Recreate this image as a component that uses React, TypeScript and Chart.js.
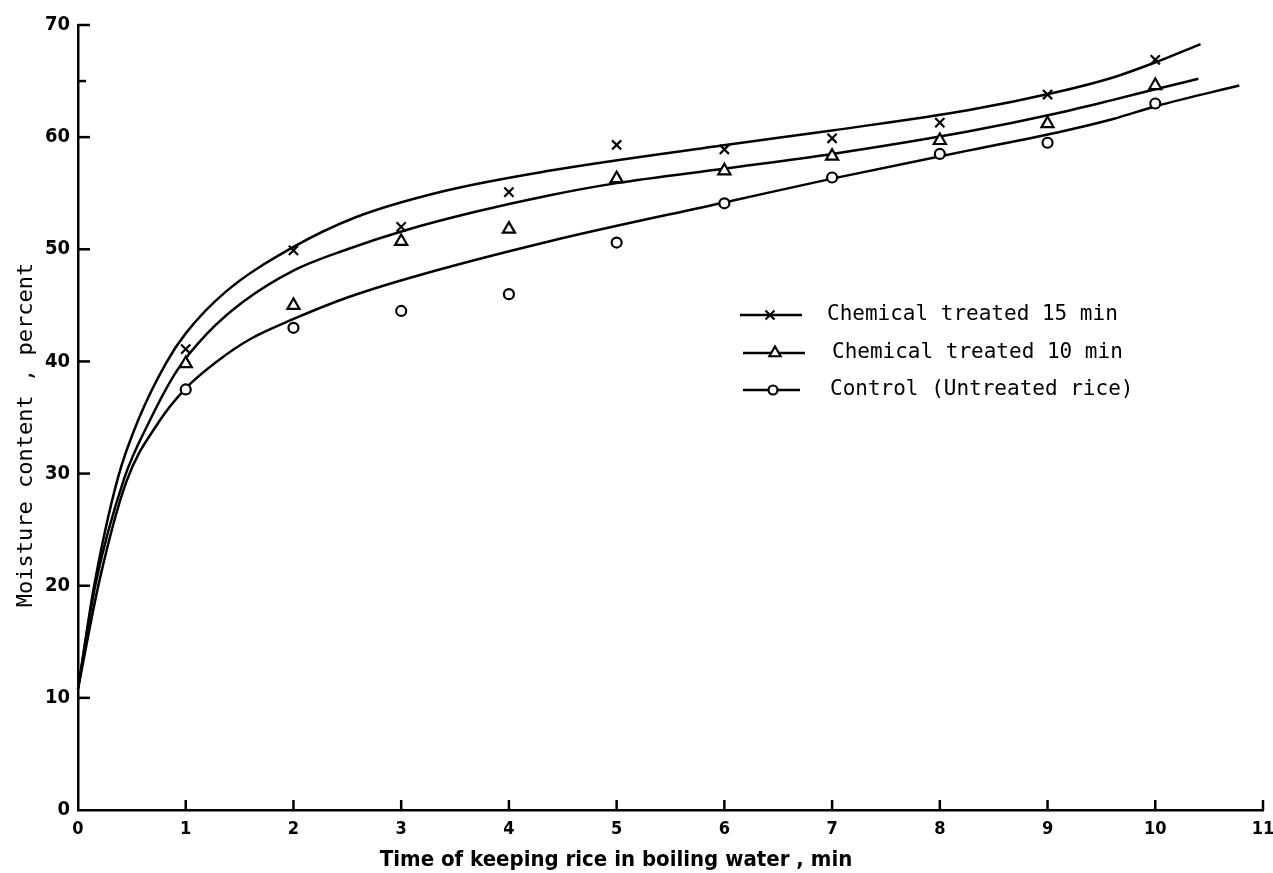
import React, { useEffect, useRef } from 'react';
import { Chart, registerables } from 'chart.js';

Chart.register(...registerables);

// ---- Data ----
const seriesLabels = ['Chemical treated 15 min', 'Chemical treated 10 min', 'Control (Untreated rice)'];
const markerStyles = ['crossRot', 'triangle', 'circle'];

// measured points
const timeMin = [1, 2, 3, 4, 5, 6, 7, 8, 9, 10];
const treated15 = [41.1, 49.9, 52.0, 55.1, 59.3, 58.9, 59.9, 61.3, 63.8, 66.9];
const treated10 = [39.8, 45.0, 50.7, 51.8, 56.3, 57.0, 58.3, 59.7, 61.2, 64.6];
const control = [37.5, 43.0, 44.5, 46.0, 50.6, 54.1, 56.4, 58.5, 59.5, 63.0];

// fitted curves
const curve15X = [0, 0.15, 0.37, 0.56, 0.82, 1.0, 1.37, 1.98, 2.59, 3.4, 4.37, 6.01, 7.0, 8.26, 9.08, 9.6, 10.01, 10.42];
const curve15Y = [10.8, 20, 29.6, 34.8, 39.9, 42.5, 46.2, 50.1, 52.9, 55.2, 57.0, 59.3, 60.6, 62.4, 64.0, 65.3, 66.7, 68.3];
const curve10X = [0, 0.16, 0.43, 0.66, 0.92, 1.2, 1.53, 2.0, 2.5, 3.04, 3.67, 4.37, 5.0, 6.01, 7.0, 8.26, 9.08, 9.6, 10.01, 10.4];
const curve10Y = [10.8, 20, 29.6, 34.6, 39.2, 42.5, 45.3, 48.1, 50.0, 51.7, 53.3, 54.8, 55.9, 57.2, 58.5, 60.5, 62.1, 63.3, 64.3, 65.2];
const curveCX = [0, 0.2, 0.45, 0.75, 1.0, 1.29, 1.6, 1.98, 2.5, 3.06, 4.37, 6.01, 7.0, 8.26, 9.08, 9.6, 10.02, 10.78];
const curveCY = [10.8, 20.5, 29.3, 34.6, 37.6, 40.0, 42.0, 43.7, 45.7, 47.4, 50.7, 54.2, 56.3, 58.8, 60.4, 61.6, 62.8, 64.6];

// axis ticks
const xTickValues = [1, 2, 3, 4, 5, 6, 7, 8, 9, 10, 11];
const yTickValues = [10, 20, 30, 40, 50, 60, 70];
const yMinorTicks = [65];

const xTitle = 'Time of keeping rice in boiling water , min';
const yTitle = 'Moisture content , percent';

const FONT_TICK = '"DejaVu Sans Condensed", "Liberation Sans Narrow", "DejaVu Sans", sans-serif';
const FONT_MONO = '"DejaVu Sans Mono", "Liberation Mono", monospace';

const toPts = (xs: number[], ys: number[]) => xs.map((x, i) => ({ x, y: ys[i] }));

function drawMarker(ctx: CanvasRenderingContext2D, style: string, x: number, y: number) {
  ctx.save();
  ctx.strokeStyle = '#000';
  ctx.fillStyle = '#fff';
  ctx.lineWidth = 2.2;
  ctx.beginPath();
  if (style === 'crossRot') {
    const d = 4.5;
    ctx.moveTo(x - d, y - d); ctx.lineTo(x + d, y + d);
    ctx.moveTo(x + d, y - d); ctx.lineTo(x - d, y + d);
    ctx.stroke();
  } else if (style === 'triangle') {
    const r = 6.5;
    ctx.moveTo(x, y - r);
    ctx.lineTo(x + r * 0.866, y + r * 0.5);
    ctx.lineTo(x - r * 0.866, y + r * 0.5);
    ctx.closePath();
    ctx.fill(); ctx.stroke();
  } else {
    ctx.arc(x, y, 4.5, 0, Math.PI * 2);
    ctx.fill(); ctx.stroke();
  }
  ctx.restore();
}

const decorPlugin = {
  id: 'decor',
  afterDraw(chart: any) {
    const ctx: CanvasRenderingContext2D = chart.ctx;
    const { left, bottom } = chart.chartArea;
    const xs = chart.scales.x;
    const ys = chart.scales.y;
    ctx.save();
    ctx.strokeStyle = '#000';
    ctx.lineWidth = 2.5;
    ctx.lineCap = 'butt';
    // y ticks pointing into the plot
    yTickValues.forEach((v) => {
      const py = ys.getPixelForValue(v);
      ctx.beginPath(); ctx.moveTo(left, py); ctx.lineTo(left + 12, py); ctx.stroke();
    });
    yMinorTicks.forEach((v) => {
      const py = ys.getPixelForValue(v);
      ctx.beginPath(); ctx.moveTo(left, py); ctx.lineTo(left + 8, py); ctx.stroke();
    });
    // x ticks pointing up
    xTickValues.forEach((v) => {
      const px = xs.getPixelForValue(v);
      ctx.beginPath(); ctx.moveTo(px, bottom); ctx.lineTo(px, bottom - 10); ctx.stroke();
    });

    // axis titles
    ctx.fillStyle = '#000';
    ctx.font = `bold 22px ${FONT_TICK}`;
    ctx.textAlign = 'center';
    ctx.textBaseline = 'middle';
    ctx.fillText(xTitle, 616, 860);

    ctx.save();
    ctx.translate(26, 435);
    ctx.rotate(-Math.PI / 2);
    ctx.font = `22px ${FONT_MONO}`;
    ctx.fillText(yTitle, 0, 0);
    ctx.restore();

    // legend
    const rows = [
      { x0: 740, x1: 802, mx: 770, y: 315, tx: 827 },
      { x0: 743, x1: 805, mx: 775, y: 353, tx: 832 },
      { x0: 743, x1: 800, mx: 773, y: 390, tx: 830 },
    ];
    rows.forEach((r, i) => {
      ctx.lineWidth = 2.5;
      ctx.beginPath(); ctx.moveTo(r.x0, r.y); ctx.lineTo(r.x1, r.y); ctx.stroke();
      drawMarker(ctx, markerStyles[i], r.mx, r.y);
      ctx.fillStyle = '#000';
      ctx.font = `21px ${FONT_MONO}`;
      ctx.textAlign = 'left';
      ctx.textBaseline = 'middle';
      ctx.fillText(seriesLabels[i], r.tx, r.y);
    });
    ctx.restore();
  },
};

export default function App() {
  const ref = useRef<HTMLCanvasElement>(null);
  useEffect(() => {
    const canvas = ref.current;
    if (!canvas) return;
    const pointSets = [treated15, treated10, control];
    const curves = [toPts(curve15X, curve15Y), toPts(curve10X, curve10Y), toPts(curveCX, curveCY)];
    const radii = [6.5, 7, 5];
    const markerDatasets = pointSets.map((vals, i) => ({
      type: 'line' as const,
      label: seriesLabels[i],
      data: timeMin.map((t, k) => ({ x: t, y: vals[k] })),
      showLine: false,
      pointStyle: markerStyles[i] as any,
      pointRadius: radii[i],
      pointBorderWidth: 2.2,
      pointBorderColor: '#000',
      pointBackgroundColor: '#fff',
      order: 0,
      clip: false as any,
    }));
    const curveDatasets = curves.map((pts, i) => ({
      type: 'line' as const,
      label: seriesLabels[i] + ' curve',
      data: pts,
      borderColor: '#000',
      borderWidth: 2.5,
      pointRadius: 0,
      fill: false,
      cubicInterpolationMode: 'monotone' as const,
      order: 1,
      clip: false as any,
    }));
    const chart = new Chart(canvas, {
      type: 'line',
      data: { datasets: [...markerDatasets, ...curveDatasets] as any },
      options: {
        responsive: false,
        animation: false,
        events: [],
        layout: { padding: { top: 25, right: 10, left: 0, bottom: 0 } },
        plugins: { legend: { display: false }, tooltip: { enabled: false } },
        scales: {
          x: {
            type: 'linear',
            min: 0,
            max: 11,
            afterFit: (s: any) => { s.height = 63; s.paddingRight = 0; s.paddingLeft = 0; },
            ticks: {
              stepSize: 1,
              autoSkip: false,
              maxRotation: 0,
              padding: 9,
              color: '#000',
              font: { family: FONT_TICK, size: 18, weight: 'bold' },
            },
            grid: { display: false, drawTicks: false },
            border: { display: true, color: '#000', width: 2.5 },
          },
          y: {
            type: 'linear',
            min: 0,
            max: 70,
            afterFit: (s: any) => { s.width = 78; },
            ticks: {
              stepSize: 10,
              padding: 8,
              color: '#000',
              font: { family: FONT_TICK, size: 20, weight: 'bold' },
            },
            grid: { display: false, drawTicks: false },
            border: { display: true, color: '#000', width: 2.5 },
          },
        },
      },
      plugins: [decorPlugin],
    });
    return () => chart.destroy();
  }, []);
  return (
    <div style={{ position: 'fixed', left: 0, top: 0, width: 1273, height: 873, background: '#fff' }}>
      <canvas ref={ref} width={1273} height={873} style={{ display: 'block' }} />
    </div>
  );
}
